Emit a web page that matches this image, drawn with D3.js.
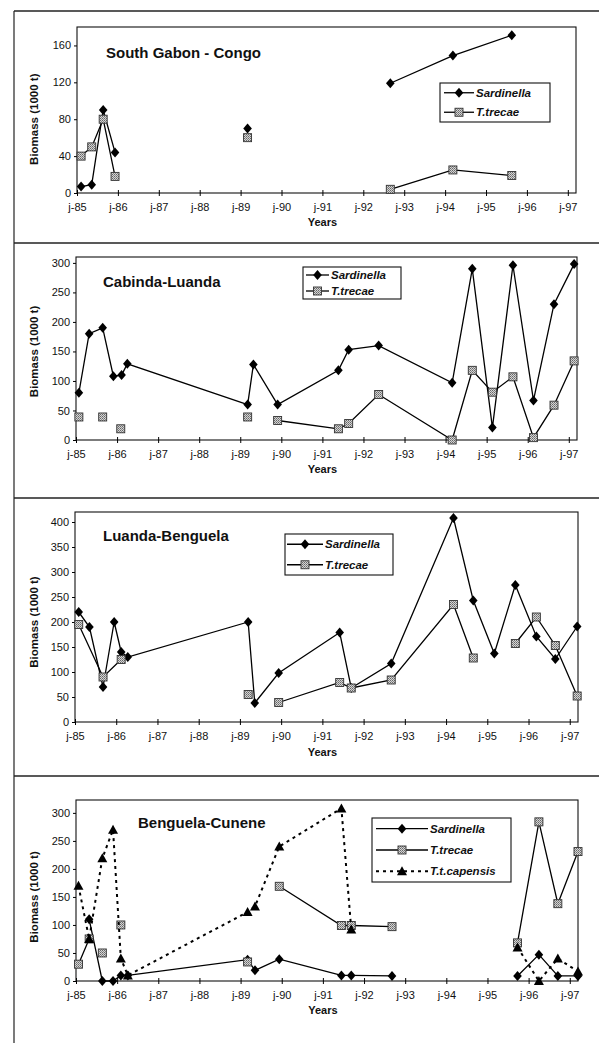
<!DOCTYPE html>
<html>
<head>
<meta charset="utf-8">
<script src="https://cdn.jsdelivr.net/npm/d3@7"></script>
<style>
  body { margin: 0; background: #fff; }
  text { font-family: "Liberation Sans", Arial, sans-serif; }
</style>
</head>
<body>
<div id="chart"></div>
<script>
let w = 599;
let h = 1043;

///////////////////////////////////////////////////////////////////////////
// DATA (years as decimal 85.5 = mid 1985, null = break in the line)

let yearTicks = [85, 86, 87, 88, 89, 90, 91, 92, 93, 94, 95, 96, 97];
let panelTitles = ["South Gabon - Congo", "Cabinda-Luanda", "Luanda-Benguela", "Benguela-Cunene"];
let seriesNames = ["Sardinella", "T.trecae", "T.t.capensis"];

// South Gabon - Congo
let gabonSardYears = [85.10, 85.36, 85.64, 85.93, null, 89.17, null, 92.66, 94.19, 95.63];
let gabonSard      = [7, 9, 90, 44, null, 70, null, 119, 149, 171];
let gabonTrecYears = [85.10, 85.36, 85.64, 85.93, null, 89.17, null, 92.66, 94.19, 95.63];
let gabonTrec      = [40, 50, 80, 18, null, 60, null, 4, 25, 19];

// Cabinda-Luanda
let cabindaSardYears = [85.07, 85.32, 85.65, 85.91, 86.11, 86.25, 89.18, 89.32, 89.91, 91.39, 91.64, 92.37, 94.16, 94.65, 95.14, 95.64, 96.14, 96.64, 97.13];
let cabindaSard      = [80, 180, 190, 108, 110, 129, 60, 128, 60, 118, 153, 160, 97, 290, 21, 296, 67, 230, 298];
let cabindaTrecYears = [85.07, null, 85.65, null, 86.09, null, 89.18, null, 89.91, 91.39, 91.64, 92.37, 94.16, 94.65, 95.14, 95.64, 96.14, 96.64, 97.13];
let cabindaTrec      = [39, null, 39, null, 19, null, 39, null, 33, 19, 28, 77, 0, 118, 81, 107, 4, 59, 134];

// Luanda-Benguela
let luandaSardYears = [85.09, 85.35, 85.68, 85.95, 86.12, 86.28, 89.20, 89.36, 89.94, 91.42, 91.70, 92.67, 94.18, 94.66, 95.17, 95.68, 96.19, 96.65, 97.18];
let luandaSard      = [220, 190, 70, 200, 140, 130, 200, 38, 98, 179, 68, 117, 408, 243, 137, 274, 171, 126, 191];
let luandaTrecYears = [85.09, 85.68, 86.12, null, 89.20, null, 89.94, 91.42, 91.70, 92.67, 94.18, 94.66, null, 95.68, 96.19, 96.65, 97.18];
let luandaTrec      = [195, 90, 125, null, 55, null, 39, 79, 68, 84, 235, 128, null, 157, 210, 153, 52];

// Benguela-Cunene
let cuneneSardYears = [85.32, 85.64, 85.90, 86.09, 86.26, 89.17, 89.35, 89.94, 91.45, 91.69, 92.68, null, 95.73, 96.25, 96.71, 97.20];
let cuneneSard      = [110, 0, 0, 10, 10, 38, 19, 39, 10, 10, 9, null, 9, 47, 9, 9];
let cuneneTrecYears = [85.06, 85.32, null, 85.64, null, 86.09, null, 89.17, null, 89.94, 91.45, 91.69, 92.68, null, 95.73, 96.25, 96.71, 97.20];
let cuneneTrec      = [30, 75, null, 50, null, 100, null, 34, null, 169, 99, 99, 97, null, 68, 284, 138, 231];
let cuneneCapYears  = [85.06, 85.32, 85.64, 85.90, 86.09, 86.26, 89.17, 89.35, 89.94, 91.45, 91.69, null, 95.73, 96.25, 96.71, 97.20];
let cuneneCap       = [170, 75, 219, 270, 40, 10, 123, 133, 240, 308, 92, null, 60, 0, 40, 17];

///////////////////////////////////////////////////////////////////////////
// LAYOUT of each panel (pixels)
// box: left, right, top, bottom   legend: x, y, width, height, sample start, sample length

let panels = [
  { box: [77, 576, 27, 193], yMax: 180, yStep: 40, yTop: 160, title: [106, 58], yearsY: 226,
    legend: [440, 83, 110, 39, 4, 30],
    series: [[gabonSardYears, gabonSard], [gabonTrecYears, gabonTrec]] },
  { box: [76, 577, 257, 440], yMax: 310, yStep: 50, yTop: 300, title: [103, 287], yearsY: 473,
    legend: [303, 267, 98, 32, 3, 23],
    series: [[cabindaSardYears, cabindaSard], [cabindaTrecYears, cabindaTrec]] },
  { box: [75, 578, 512, 722], yMax: 420, yStep: 50, yTop: 400, title: [103, 541], yearsY: 756,
    legend: [285, 534, 108, 41, 2, 36],
    series: [[luandaSardYears, luandaSard], [luandaTrecYears, luandaTrec]] },
  { box: [76, 578, 800, 981], yMax: 323, yStep: 50, yTop: 300, title: [138, 828], yearsY: 1014,
    legend: [372, 818, 139, 64, 4, 52],
    series: [[cuneneSardYears, cuneneSard], [cuneneTrecYears, cuneneTrec], [cuneneCapYears, cuneneCap]] }
];

let separators = [11, 243, 498, 776];

let viz = d3.select("#chart")
              .append("svg")
                .attr("width", w)
                .attr("height", h)
;

// grey dithered fill of the squares
let pat = viz.append("defs").append("pattern")
    .attr("id", "dither")
    .attr("width", 2).attr("height", 2)
    .attr("patternUnits", "userSpaceOnUse");
pat.append("rect").attr("width", 2).attr("height", 2).attr("fill", "#d4d4d4");
pat.append("rect").attr("width", 1).attr("height", 1).attr("fill", "#666");
pat.append("rect").attr("x", 1).attr("y", 1).attr("width", 1).attr("height", 1).attr("fill", "#888");

///////////////////////////////////////////////////////////////////////////
// FRAME round the panels

viz.append("line")
    .attr("x1", 14).attr("x2", 14).attr("y1", separators[0]).attr("y2", h)
    .attr("stroke", "#222").attr("stroke-width", 1.2);

viz.selectAll(".sep").data(separators)
    .enter()
      .append("line")
      .attr("class", "sep")
      .attr("x1", 14).attr("x2", w)
      .attr("y1", d => d).attr("y2", d => d)
      .attr("stroke", "#222").attr("stroke-width", 1.3);

///////////////////////////////////////////////////////////////////////////
// MARKERS

function drawMarker(g, k, x, y) {
  if (k == 0) {
    g.append("path")
      .attr("d", "M0,-5L4.3,0L0,5L-4.3,0Z")
      .attr("transform", "translate(" + x + "," + y + ")")
      .attr("fill", "#000");
  } else if (k == 1) {
    g.append("rect")
      .attr("x", x - 4).attr("y", y - 4)
      .attr("width", 8).attr("height", 8)
      .attr("fill", "url(#dither)")
      .attr("stroke", "#333").attr("stroke-width", 0.9);
  } else {
    g.append("path")
      .attr("d", "M0,-5L5,4L-5,4Z")
      .attr("transform", "translate(" + x + "," + y + ")")
      .attr("fill", "#000");
  }
}

function dashFor(k) {
  if (k == 2) { return "3,4"; }
  return null;
}

function widthFor(k) {
  if (k == 2) { return 2; }
  return 1.3;
}

///////////////////////////////////////////////////////////////////////////
// PANELS

panels.forEach(function (p, pi) {
  let x0 = p.box[0], x1 = p.box[1], y0 = p.box[2], y1 = p.box[3];

  let x = d3.scaleLinear().domain([85, 97.2]).range([x0, x1]);
  let y = d3.scaleLinear().domain([0, p.yMax]).range([y1, y0]);

  let g = viz.append("g").attr("class", "panel" + pi);

  g.append("rect")
    .attr("x", x0).attr("y", y0)
    .attr("width", x1 - x0).attr("height", y1 - y0)
    .attr("fill", "none").attr("stroke", "#111").attr("stroke-width", 1.1);

  // y axis
  let yAxis = d3.axisLeft(y)
      .tickValues(d3.range(0, p.yTop + 1, p.yStep))
      .tickSize(3).tickPadding(3);
  g.append("g")
    .attr("transform", "translate(" + x0 + ",0)")
    .call(yAxis)
    .call(a => a.select(".domain").remove())
    .call(a => a.selectAll("text").attr("font-size", 11).attr("fill", "#111"));

  // x axis, ticks crossing the line
  let xAxis = d3.axisBottom(x)
      .tickValues(yearTicks)
      .tickFormat(d => "j-" + d)
      .tickSize(3).tickPadding(7);
  g.append("g")
    .attr("transform", "translate(0," + y1 + ")")
    .call(xAxis)
    .call(a => a.select(".domain").remove())
    .call(a => a.selectAll(".tick line").attr("y1", -3))
    .call(a => a.selectAll("text").attr("font-size", 11).attr("fill", "#111"));

  g.append("text")
    .attr("x", x(91))
    .attr("y", p.yearsY)
    .attr("text-anchor", "middle")
    .attr("font-size", 11)
    .attr("font-weight", "bold")
    .attr("fill", "#111")
    .text("Years");

  g.append("text")
    .attr("transform", "translate(38," + ((y(0) + y(p.yTop)) / 2) + ") rotate(-90)")
    .attr("text-anchor", "middle")
    .attr("font-size", 11.5)
    .attr("font-weight", "bold")
    .attr("fill", "#111")
    .text("Biomass (1000 t)");

  g.append("text")
    .attr("x", p.title[0])
    .attr("y", p.title[1])
    .attr("font-size", 15)
    .attr("font-weight", "bold")
    .attr("fill", "#111")
    .text(panelTitles[pi]);

  // lines and markers
  p.series.forEach(function (s, k) {
    let pts = s[0].map((yr, i) => ({ yr: yr, v: s[1][i] }));
    let line = d3.line()
        .defined(d => d.yr != null && d.v != null)
        .x(d => x(d.yr))
        .y(d => y(d.v));
    g.append("path")
      .datum(pts)
      .attr("d", line)
      .attr("fill", "none")
      .attr("stroke", "#000")
      .attr("stroke-width", widthFor(k))
      .attr("stroke-dasharray", dashFor(k));
    pts.filter(d => d.yr != null).forEach(d => drawMarker(g, k, x(d.yr), y(d.v)));
  });

  // legend
  let lx = p.legend[0], ly = p.legend[1], lw = p.legend[2], lh = p.legend[3];
  let sx = lx + p.legend[4], sl = p.legend[5];
  g.append("rect")
    .attr("x", lx).attr("y", ly).attr("width", lw).attr("height", lh)
    .attr("fill", "#fff").attr("stroke", "#111").attr("stroke-width", 1.1);
  let rowH = lh / p.series.length;
  p.series.forEach(function (s, k) {
    let cy = ly + rowH * (k + 0.5);
    g.append("line")
      .attr("x1", sx).attr("x2", sx + sl)
      .attr("y1", cy).attr("y2", cy)
      .attr("stroke", "#000")
      .attr("stroke-width", widthFor(k))
      .attr("stroke-dasharray", dashFor(k));
    drawMarker(g, k, sx + sl / 2, cy);
    g.append("text")
      .attr("x", sx + sl + 2)
      .attr("y", cy + 4)
      .attr("font-size", 11.5)
      .attr("font-style", "italic")
      .attr("font-weight", "bold")
      .attr("fill", "#111")
      .text(seriesNames[k]);
  });
});
</script>
</body>
</html>
